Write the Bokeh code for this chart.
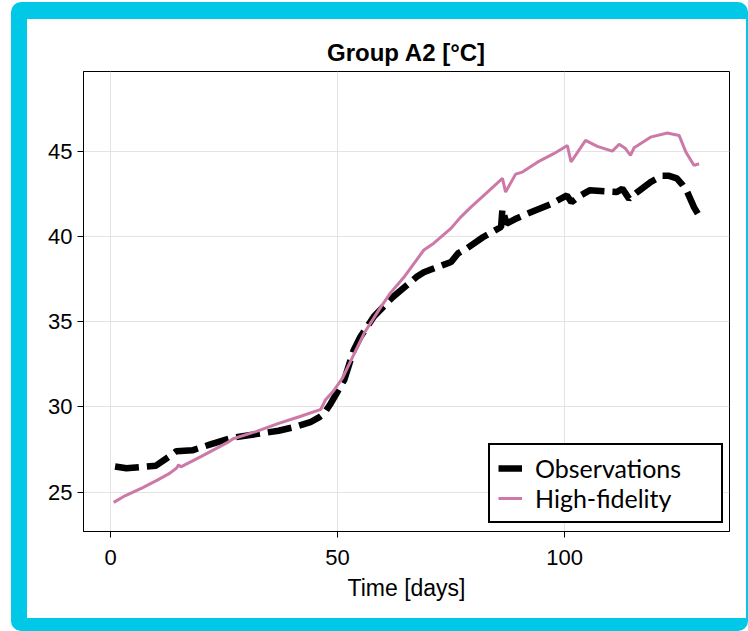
from bokeh.plotting import figure
from bokeh.layouts import column
from bokeh.models import Range1d, FixedTicker, Legend, LegendItem
from bokeh.embed import file_html
from bokeh.resources import INLINE

# ---------------- data ----------------
obs_day = [1, 3.5, 10, 13, 14.5, 18, 22, 27, 32, 37, 41, 44, 46, 47, 48.5, 50,
           51.5, 53.5, 55, 56.5, 58, 60, 62, 64, 66, 67.5, 69, 71, 73, 75, 76.5,
           78.5, 82, 86, 86.3, 87.2, 89, 92, 97, 100.5, 101.5, 103.5, 105.5,
           111.5, 112.7, 114.2, 116, 119, 121.5, 123, 124.7, 126, 127, 128.5, 129.6]
obs_val = [26.5, 26.4, 26.55, 27.1, 27.4, 27.45, 27.8, 28.2, 28.4, 28.6, 28.85,
           29.1, 29.4, 29.6, 30.2, 30.9, 31.6, 33.3, 34.1, 34.7, 35.3, 35.85,
           36.4, 36.85, 37.3, 37.65, 37.9, 38.1, 38.3, 38.5, 39.0, 39.3, 39.95,
           40.55, 41.6, 40.75, 41.0, 41.35, 41.9, 42.4, 42.0, 42.4, 42.7, 42.6,
           42.8, 42.2, 42.6, 43.2, 43.55, 43.55, 43.4, 43.0, 42.6, 41.7, 41.2]

hf_day = [0.7, 3.3, 7, 10.3, 13, 14.5, 15, 15.5, 20, 25.7, 27, 32, 36.7, 41.9,
          46.3, 47.3, 49, 51, 52.9, 55.8, 59.5, 61.7, 64.6, 66.8, 69, 71.2,
          74.9, 77, 79.3, 83, 86.3, 87, 89.2, 90.7, 94, 97.6, 100.6, 101.4,
          104.6, 107.2, 110.5, 112, 113.4, 114.5, 115.3, 118.9, 122.6, 125.2,
          126.7, 128.5, 129.6]
hf_val = [24.4, 24.8, 25.25, 25.7, 26.1, 26.4, 26.6, 26.48, 27.1, 27.9, 28.13,
          28.55, 29.0, 29.45, 29.85, 30.4, 30.9, 31.65, 32.7, 34.3, 35.85, 36.7,
          37.6, 38.4, 39.2, 39.6, 40.45, 41.1, 41.7, 42.6, 43.4, 42.6, 43.65,
          43.77, 44.35, 44.85, 45.33, 44.36, 45.63, 45.28, 45.0, 45.4, 45.15,
          44.75, 45.2, 45.82, 46.06, 45.92, 44.94, 44.16, 44.26]

x_ticks = [0, 50, 100]
y_ticks = [25, 30, 35, 40, 45]
title_text = "Group A2 [°C]"
x_label = "Time [days]"
series_names = ["Observations", "High-fidelity"]

# ---------------- layout geometry (window pixels) ----------------
OX, OY = 27, 19            # top-left of the white panel inside the cyan frame
PW, PH = 746 - OX, 618 - OY  # white panel size
FL, FR, FT, FB = 83, 729, 71, 531   # plot frame edges in window pixels

p = figure(width=PW, height=PH, output_backend="svg", toolbar_location=None,
           x_range=Range1d(-5.95, 136.3), y_range=Range1d(22.69, 49.67),
           min_border_left=FL - OX, min_border_right=(OX + PW) - FR,
           min_border_top=FT - OY, min_border_bottom=(OY + PH) - FB,
           title=title_text)

p.background_fill_color = "white"
p.border_fill_color = "white"
p.outline_line_color = "black"
p.outline_line_width = 1

# title
p.title.text_font = "Liberation Sans"
p.title.text_font_size = "24px"
p.title.text_font_style = "bold"
p.title.align = "center"
p.title.text_color = "black"
p.title.standoff = 12

# axes
for ax in (p.xaxis[0], p.yaxis[0]):
    ax.axis_line_color = "black"
    ax.axis_line_width = 1
    ax.major_tick_line_color = "black"
    ax.major_tick_in = 0
    ax.major_tick_out = 6
    ax.minor_tick_line_color = None
    ax.major_label_text_font = "Liberation Sans"
    ax.major_label_text_font_size = "22px"
    ax.major_label_text_color = "black"

p.xaxis.major_label_standoff = 12
p.yaxis.major_label_standoff = 5
p.xaxis.ticker = FixedTicker(ticks=x_ticks)
p.yaxis.ticker = FixedTicker(ticks=y_ticks)
p.xaxis.axis_label = x_label
p.xaxis.axis_label_text_font = "Liberation Sans"
p.xaxis.axis_label_text_font_size = "23px"
p.xaxis.axis_label_text_font_style = "normal"
p.xaxis.axis_label_text_color = "black"
p.xaxis.axis_label_standoff = 7

p.grid.grid_line_color = "#e3e3e3"
p.grid.grid_line_width = 1

# lines
r_obs = p.line(obs_day, obs_val, line_color="black", line_width=6.5,
               line_dash="24 8")
r_hf = p.line(hf_day, hf_val, line_color="#cc79a7", line_width=3)

legend = Legend(items=[LegendItem(label=series_names[0], renderers=[r_obs]),
                       LegendItem(label=series_names[1], renderers=[r_hf])],
                location=(488 - FL, FB - 523))
legend.margin = 0
legend.padding = 8
legend.spacing = 0
legend.glyph_width = 24
legend.glyph_height = 30
legend.label_height = 30
legend.label_width = 178
legend.label_standoff = 13
legend.label_text_font = "Lato"
legend.label_text_font_size = "25px"
legend.label_text_color = "black"
legend.border_line_color = "black"
legend.border_line_width = 2
legend.border_line_alpha = 1.0
legend.background_fill_color = "white"
legend.background_fill_alpha = 1.0
p.add_layout(legend, "center")

# cyan rounded frame around the picture
page = column(p, styles={
    "margin": f"2px 0px 0px 11px",
    "border-style": "solid",
    "border-color": "#00c8e6",
    "border-width": f"{OY - 2}px 2px 13px {OX - 11}px",
    "border-radius": "10px",
    "background-color": "white",
})

open("out.html", "w").write(file_html(page, INLINE))
